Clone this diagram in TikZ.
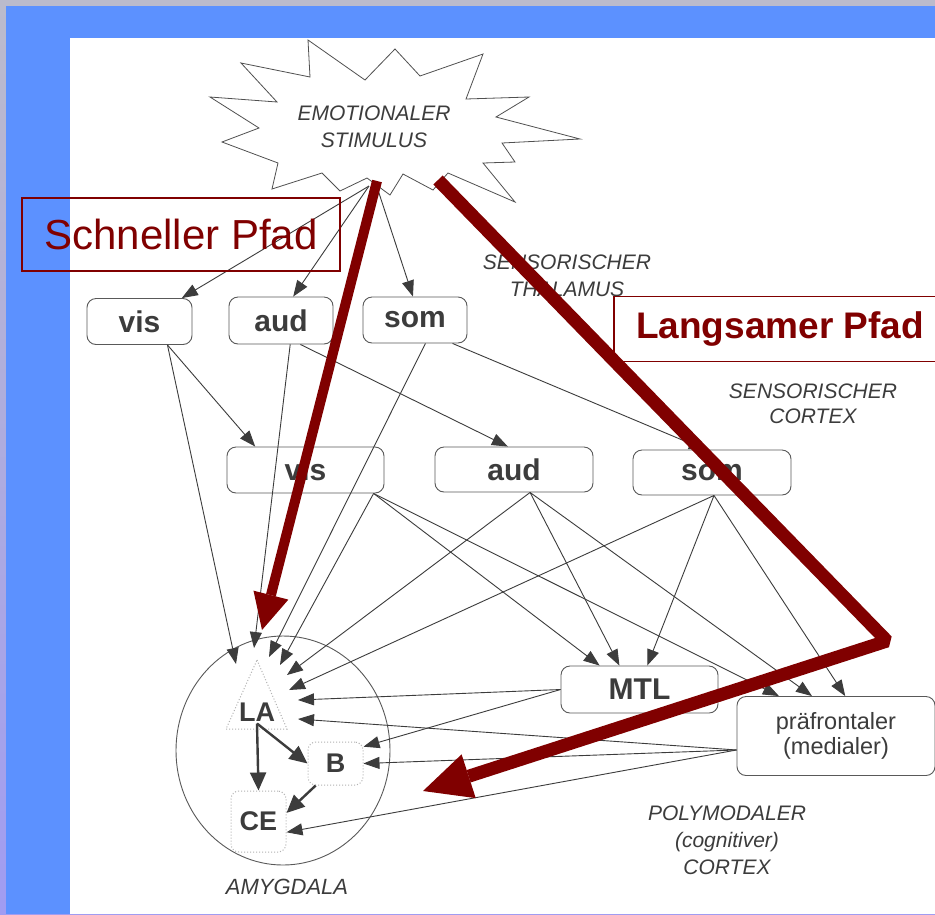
\documentclass[tikz,border=0pt]{standalone}
\usepackage{fontspec}
\setmainfont{Liberation Sans}
\usetikzlibrary{arrows.meta,shapes.geometric,positioning,calc}

\definecolor{slideblue}{HTML}{5C91FF}
\definecolor{framegrey}{HTML}{BBBBCC}
\definecolor{framelilac}{HTML}{A09CF2}
\definecolor{pathred}{HTML}{800000}
\definecolor{ink}{HTML}{3C3C3C}

\begin{document}
\begin{tikzpicture}[x=1pt, y=-1pt,
    box/.style={draw=ink!85, line width=0.9pt, rounded corners=9pt, text=ink, inner sep=0pt, font=\fontsize{30}{30}\selectfont\bfseries},
    inbox/.style={draw=gray!60, dotted, line width=1pt, rounded corners=8pt, text=ink, inner sep=0pt, font=\fontsize{27}{27}\selectfont\bfseries},
    area/.style={text=ink, align=center, font=\fontsize{21}{27}\selectfont\itshape},
    arr/.style={draw=ink, line width=0.9pt, -{Triangle[length=16pt,width=12pt]}},
    amyarr/.style={draw=ink, line width=2.4pt, -{Triangle[length=18pt,width=16pt]}},
    redpath/.style={draw=pathred, line join=bevel},
    tag/.style={draw=pathred, line width=1.3pt, text=pathred, inner sep=0pt}]

    % Slide background
    \shade[top color=framegrey, bottom color=framelilac] (0,0) rectangle (935,914);
    \fill[slideblue] (6,6) rectangle (935,914);
    \fill[white] (70,38) rectangle (935,914);
    \useasboundingbox (0,0) rectangle (935,914);

    % Stimulus
    \draw[ink!90, line width=0.8pt, line join=miter] (308,40) -- (365,80) -- (395,49) -- (420,76) -- (483,54)
        -- (466,99) -- (529,97) -- (496,117) -- (580,139) -- (502,143) -- (515,162) -- (483,163)
        -- (515,202) -- (448,173) -- (433,190) -- (403,174) -- (390,195) -- (367,178) -- (340,191)
        -- (322,173) -- (272,189) -- (278,163) -- (222,142) -- (259,128) -- (210,97) -- (277,102)
        -- (241,63) -- (310,77) -- cycle;
    \node[area] (stim) at (374,127) {EMOTIONALER\\STIMULUS};
    \coordinate (stimL) at (369,186);
    \coordinate (stimR) at (377,187);

    % Region labels
    \node[area] (thalLbl) at (567,276) {SENSORISCHER\\THALAMUS};
    \node[area, font=\fontsize{21}{25}\selectfont\itshape] (ctxLbl) at (813,404) {SENSORISCHER\\CORTEX};
    \node[area] (polyLbl) at (727,840) {POLYMODALER\\(cognitiver)\\CORTEX};

    % Thalamus
    \node[box, minimum width=105pt, minimum height=46pt] (visT) at (139.5,321.5) {vis};
    \node[box, minimum width=104pt, minimum height=47pt] (audT) at (281,320.5) {aud};
    \node[box, minimum width=104pt, minimum height=46pt] (somT) at (415,320) {som};

    % Sensory cortex
    \node[box, minimum width=157pt, minimum height=46pt] (visC) at (305.5,470) {vis};
    \node[box, minimum width=158pt, minimum height=45pt] (audC) at (514,469.5) {aud};
    \node[box, minimum width=158pt, minimum height=45pt] (somC) at (712,472.5) {som};

    % Polymodal cortex
    \node[box, minimum width=157pt, minimum height=47pt] (mtl) at (639.5,689.5) {MTL};
    \node[box, font=\fontsize{23.5}{25}\selectfont, align=center, minimum width=198pt, minimum height=79pt] (pfc) at (836,736) {präfrontaler\\(medialer)};

    % Amygdala
    \node[draw=ink!85, line width=0.9pt, ellipse, minimum width=214pt, minimum height=229pt] (amy) at (283,750.5) {};
    \draw[gray!60, dotted, line width=1pt] (257,660) -- (287,729) -- (226,729) -- cycle;
    \node[text=ink, inner sep=2pt, font=\fontsize{27}{27}\selectfont\bfseries] (LA) at (257,712) {LA};
    \node[inbox, minimum width=55pt, minimum height=43pt] (B) at (335.5,763.5) {B};
    \node[inbox, minimum width=55pt, minimum height=61pt] (CE) at (258.5,821.5) {CE};
    \node[area, font=\fontsize{22}{27}\selectfont\itshape] (amyLbl) at (287,887) {AMYGDALA};

    % Entry points at LA
    \coordinate (la1) at (236,664);
    \coordinate (la2) at (254,648);
    \coordinate (la3) at (269,657);
    \coordinate (la4) at (280,665);
    \coordinate (la5) at (287,675);
    \coordinate (la6) at (289,690);
    \coordinate (la7) at (298,700);
    \coordinate (la8) at (298,719);

    % Stimulus -> thalamus
    \draw[arr] (stimL) -- (visT.29);
    \draw[arr] (stimL) -- (audT.63);
    \draw[arr] (stimR) -- (somT.95);

    % Thalamus -> cortex and amygdala
    \draw[arr] (visT.-40) -- (visC.155);
    \draw[arr] (visT.-40) -- (la1);
    \draw[arr] (audT.-51) -- (audC.105);
    \draw[arr] (audT.-69) -- (la2);
    \draw[arr] (somT.-32) -- (somC.107);
    \draw[arr] (somT.-66) -- (la3);

    % Cortex -> amygdala, MTL, prefrontal
    \draw[arr] (visC.-19) -- (la4);
    \draw[arr] (visC.-19) -- (mtl.149);
    \draw[arr] (visC.-19) -- (pfc.145);
    \draw[arr] (audC.-55) -- (la5);
    \draw[arr] (audC.-55) -- (mtl.130);
    \draw[arr] (audC.-55) -- (pfc.121);
    \draw[arr] (somC.-85) -- (la6);
    \draw[arr] (somC.-85) -- (mtl.72);
    \draw[arr] (somC.-85) -- (pfc.77);

    % Polymodal -> amygdala
    \draw[arr] (mtl.west) -- (la7);
    \draw[arr] (mtl.west) -- (B.31);
    \draw[arr] (pfc.188) -- (la8);
    \draw[arr] (pfc.188) -- (B.east);
    \draw[arr] (pfc.188) -- (CE.-21);

    % Inside amygdala
    \draw[amyarr] (LA.south) -- (CE.north);
    \draw[amyarr] (LA.south) -- (B.west);
    \draw[amyarr] (B.228) -- (CE.17);

    % Fast and slow path
    \coordinate (fastA) at (377,181);
    \coordinate (fastZ) at (262,630);
    \coordinate (slowA) at (438,180);
    \coordinate (slowK) at (887,641);
    \coordinate (slowZ) at (423,791);
    \draw[redpath, line width=10pt, -{Triangle[length=36pt,width=36pt,line width=0pt]}] (fastA) -- (fastZ);
    \draw[redpath, line width=13pt, -{Triangle[length=48pt,width=46pt,line width=0pt]}] (slowA) -- (slowK) -- (slowZ);

    \node[tag, minimum width=318pt, minimum height=73pt, font=\fontsize{42}{42}\selectfont] (fast) at (181,234.5) {Schneller Pfad};
    \node[tag, minimum width=332pt, minimum height=65pt, font=\fontsize{37}{37}\selectfont\bfseries] (slow) at (780,329) {Langsamer Pfad};
\end{tikzpicture}
\end{document}
